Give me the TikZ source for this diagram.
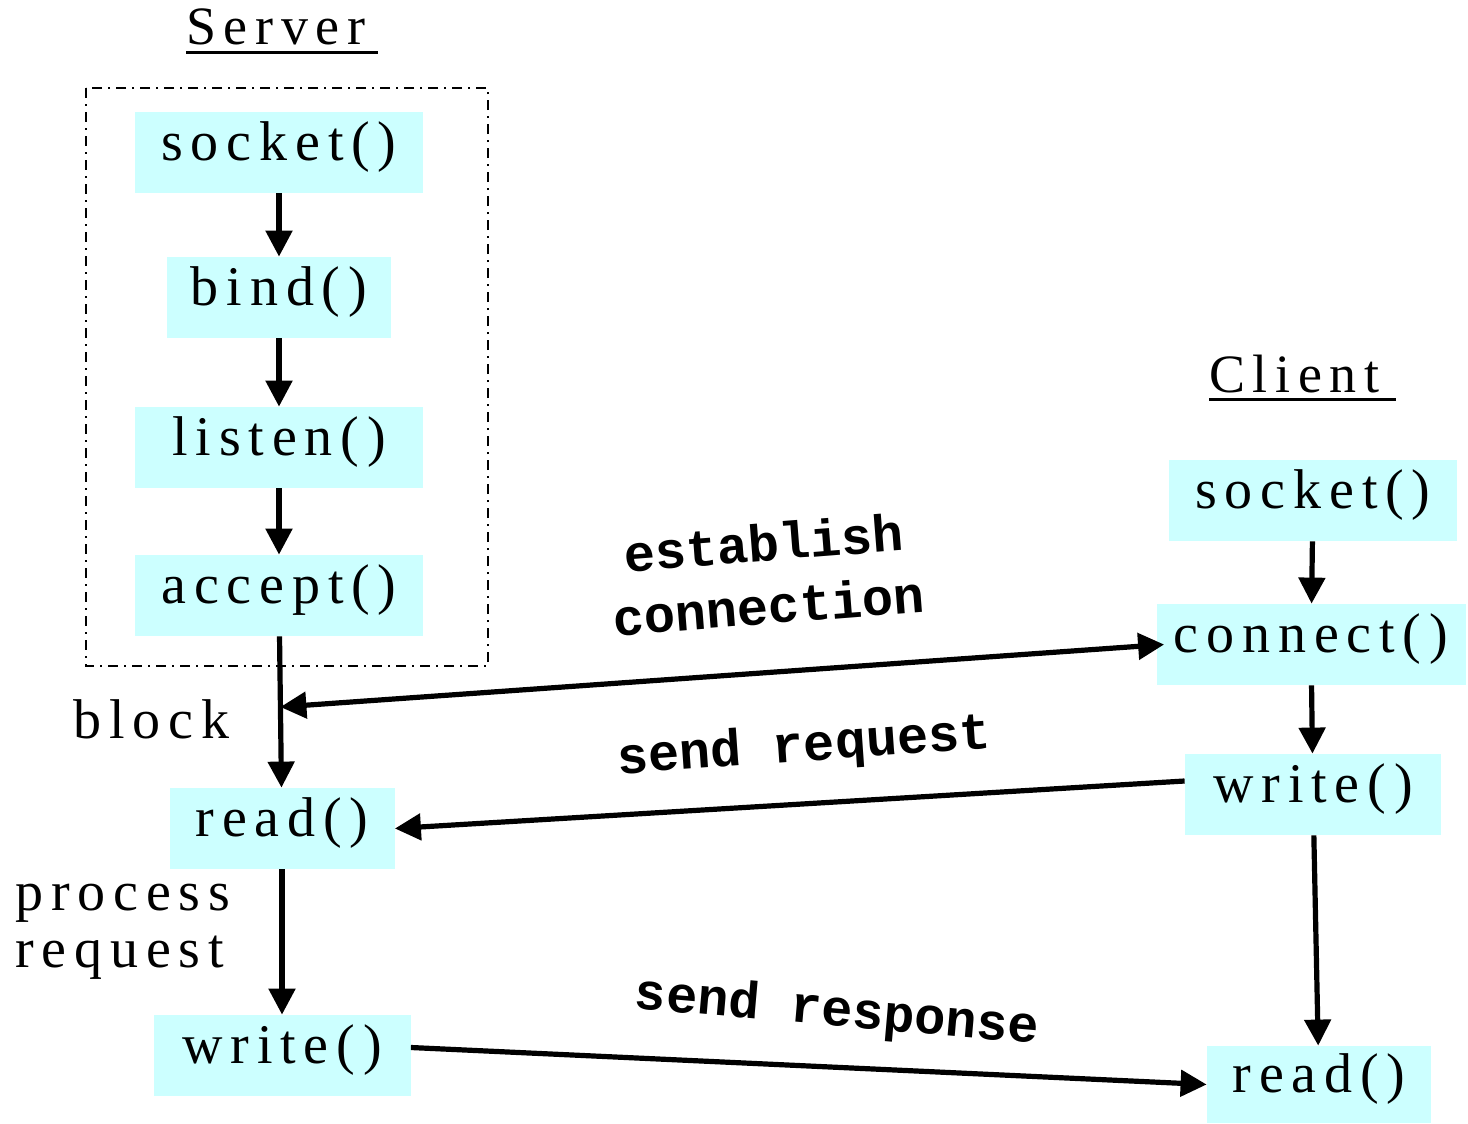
\documentclass[tikz,border=0pt]{standalone}
\usepackage{fontspec}
\usetikzlibrary{arrows.meta,calc}
\newfontfamily\callfont{Liberation Serif}[LetterSpace=14]
\newfontfamily\notefont{Liberation Mono}
\definecolor{callcyan}{HTML}{CCFFFF}

\begin{document}
\begin{tikzpicture}
  [x=0.5pt,y=-0.5pt,>={Triangle[length=13pt,width=13pt]},
   call/.style={fill=callcyan,minimum height=40.5pt,inner sep=0pt,text height=19pt,text depth=11.5pt,
                font=\callfont\fontsize{28}{30}\selectfont},
   head/.style={inner sep=0pt,anchor=base west,font=\callfont\fontsize{27}{30}\selectfont},
   side/.style={inner sep=0pt,anchor=base west,align=left,
                font=\callfont\fontsize{28}{28.5}\selectfont},
   note/.style={inner sep=0pt,align=center,font=\notefont\bfseries\fontsize{26}{31.5}\selectfont},
   flow/.style={line width=2.6pt,->}]
  \useasboundingbox (0,0) rectangle (1468,1124);

  % server side
  \draw[line width=1pt,dash pattern=on 5pt off 3pt on 1pt off 3pt] (86,88) rectangle (488,666);
  \node[head] (srv) at (186,45) {Server};
  \draw[line width=1.5pt] ([yshift=-3.5pt]srv.base west) -- ([xshift=6pt,yshift=-3.5pt]srv.base east);
  \node[call,minimum width=144pt] (ssock) at (279,152.5) {socket()};
  \node[call,minimum width=112pt] (sbind) at (279,297.5) {bind()};
  \node[call,minimum width=144pt] (slisten) at (279,447.5) {listen()};
  \node[call,minimum width=144pt] (saccept) at (279,595.5) {accept()};
  \node[call,minimum width=112.5pt] (sread) at (282,828.5) {read()};
  \node[call,minimum width=128.5pt] (swrite) at (282,1055.5) {write()};
  \node[side] (lblock) at (73,738) {block};
  \node[side] (lproc) at (15,967) {process\\request};

  % client side
  \node[head] (cli) at (1209,392) {Client};
  \draw[line width=1.5pt] ([yshift=-3.5pt]cli.base west) -- ([xshift=8pt,yshift=-3.5pt]cli.base east);
  \node[call,minimum width=144pt] (csock) at (1313,500.5) {socket()};
  \node[call,minimum width=154.5pt] (cconn) at (1311,644.5) {connect()};
  \node[call,minimum width=128pt] (cwrite) at (1313,794.5) {write()};
  \node[call,minimum width=112pt,minimum height=38.5pt] (cread) at (1319,1084.5) {read()};

  \foreach \from/\to in {ssock/sbind,sbind/slisten,slisten/saccept,saccept/sread,sread/swrite,
                         csock/cconn,cconn/cwrite,cwrite/cread}
    \draw[flow] (\from) -- (\to);

  % messages between the two
  \coordinate (blkpt) at ($(saccept.south)!0.467!(sread.north)$);
  \draw[flow,<->] (blkpt) -- ([xshift=4pt]cconn.west);
  \draw[flow] ([yshift=6.75pt]cwrite.west) -- (sread.east);
  \draw[flow] ([yshift=4pt]swrite.east) -- (cread.west);
  \node[note,rotate=4.5] (nest) at (766,574) {establish\\connection};
  \node[note,rotate=4,anchor=base] (nreq) at (805,761) {send request};
  \node[note,rotate=-5,anchor=base] (nresp) at (836,1026) {send response};
\end{tikzpicture}
\end{document}
